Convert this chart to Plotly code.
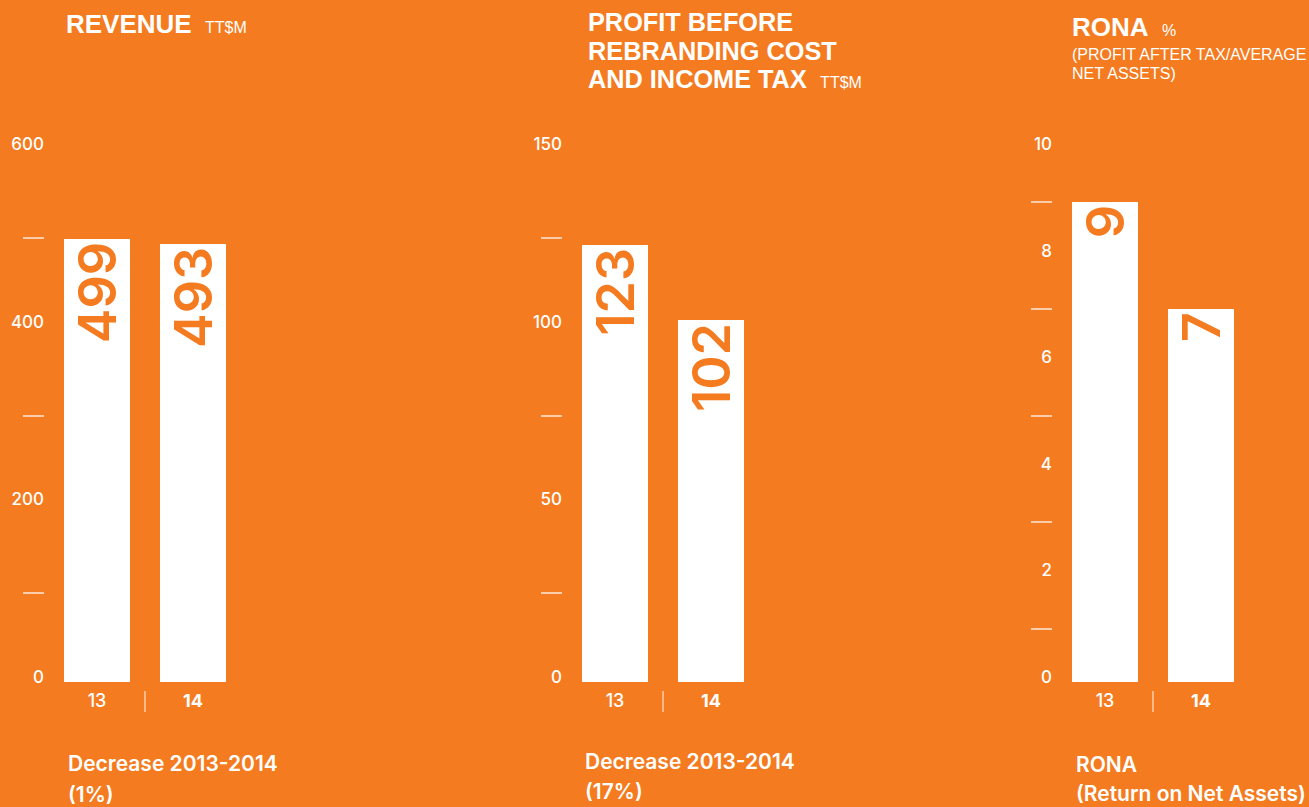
import plotly.graph_objects as go

W, H = 1309, 807
BG = "#F47B20"
LIGHT = "rgba(255,255,255,0.62)"

# ---------------- data ----------------
years = ["13", "14"]
year_ticktext = ["13", "<b>14</b>"]
revenue = [499, 493]
profit = [123, 102]
rona = [9, 7]

rev_major = [0, 200, 400, 600]
rev_minor = [100, 300, 500]
prof_major = [0, 50, 100, 150]
prof_minor = [25, 75, 125]
rona_major = [0, 2, 4, 6, 8, 10]
rona_minor = [1, 3, 5, 7, 9]

panels = [
    dict(values=revenue, major=rev_major, minor=rev_minor, top=600, axis_px=45),
    dict(values=profit, major=prof_major, minor=prof_minor, top=150, axis_px=563),
    dict(values=rona, major=rona_major, minor=rona_minor, top=10, axis_px=1053),
]

# ---------------- geometry ----------------
PLOT_TOP, PLOT_BOTTOM = 149, 682
CAT_PX = 96          # pixels between category centres
FIRST_OFFSET = 52    # axis line to first bar centre
DOMAIN_PX = 200
BAR_W = 66 / CAT_PX

ydom = [1 - PLOT_BOTTOM / H, 1 - PLOT_TOP / H]

fig = go.Figure()
layout = dict(
    width=W, height=H,
    margin=dict(l=0, r=0, t=0, b=0),
    paper_bgcolor=BG, plot_bgcolor=BG,
    showlegend=False, bargap=0,
)

shapes = []
for i, p in enumerate(panels, start=1):
    xa = "x" if i == 1 else f"x{i}"
    ya = "y" if i == 1 else f"y{i}"
    fig.add_trace(go.Bar(
        x=[0, 1], y=p["values"], width=BAR_W,
        marker=dict(color="white", line=dict(width=0)),
        text=[str(v) for v in p["values"]],
        textposition="inside", insidetextanchor="end", textangle=-90,
        constraintext="none",
        textfont=dict(family="Inter", size=52, color=BG, weight=600),
        hoverinfo="skip", xaxis=xa, yaxis=ya,
    ))
    r0 = -FIRST_OFFSET / CAT_PX
    x0 = p["axis_px"] / W
    layout["xaxis" + ("" if i == 1 else str(i))] = dict(
        domain=[x0, (p["axis_px"] + DOMAIN_PX) / W],
        range=[r0, r0 + DOMAIN_PX / CAT_PX],
        tickvals=[0, 1], ticktext=year_ticktext,
        tickfont=dict(family="Inter", size=18, color="white", weight=500),
        ticks="", showgrid=False, zeroline=False, showline=False,
        anchor=ya, automargin=False, fixedrange=True, ticklabelstandoff=6,
    )
    layout["yaxis" + ("" if i == 1 else str(i))] = dict(
        domain=ydom, range=[0, p["top"]],
        tickvals=p["major"], ticks="",
        tickfont=dict(family="Inter", size=17, color="white", weight=500),
        minor=dict(tickmode="array", tickvals=p["minor"], ticks="outside",
                   ticklen=21, tickcolor=LIGHT, tickwidth=1.5, showgrid=False),
        showgrid=False, zeroline=False, showline=False,
        anchor=xa, automargin=False, fixedrange=True, ticklabelshift=-5,
    )
    shapes.append(dict(
        type="line", xref=xa, yref=f"{ya} domain",
        x0=0.5, x1=0.5, y0=-9 / (PLOT_BOTTOM - PLOT_TOP), y1=-30 / (PLOT_BOTTOM - PLOT_TOP),
        line=dict(color=LIGHT, width=1.5),
    ))

layout["shapes"] = shapes


def ann(text, xpx, ypx, size, family="Liberation Sans, Arial, sans-serif", weight="normal"):
    return dict(
        text=text, x=xpx / W, y=1 - ypx / H, xref="paper", yref="paper",
        xanchor="left", yanchor="middle", showarrow=False, align="left",
        font=dict(family=family, size=size, color="white", weight=weight),
    )


def big(t, size=26):
    return f"<span style='font-size:{size}px'><b>{t}</b></span>"


def small(t):
    return f"<span style='font-size:16px;font-weight:normal'>{t}</span>"


unit = small("\u00a0\u00a0\u00a0TT$M")
profit_title = "<br>".join([
    big("PROFIT BEFORE", 25.3),
    big("REBRANDING COST", 25.3),
    big("AND INCOME TAX", 25.3) + unit,
])
rona_sub = "<br>".join([small("(PROFIT AFTER TAX/AVERAGE"), small("NET ASSETS)")])

annotations = [
    ann("<b>REVENUE</b>" + unit, 64, 24, 26),
    ann(profit_title, 586, 50.5, 22.0),
    ann("<b>RONA</b>" + small("\u00a0\u00a0\u00a0%"), 1070, 27, 26),
    ann(rona_sub, 1070, 64, 14.6),
    ann("Decrease 2013-2014", 66, 763.5, 21, "Inter", 600),
    ann("(1%)", 66, 794, 21, "Inter", 600),
    ann("Decrease 2013-2014", 583, 761.5, 21, "Inter", 600),
    ann("(17%)", 583, 791.5, 21, "Inter", 600),
    ann("RONA", 1074, 764.5, 21, "Inter", 600),
    ann("(Return on Net Assets)", 1074, 793, 21, "Inter", 600),
]
layout["annotations"] = annotations

fig.update_layout(**layout)
fig.write_html("out.html")
